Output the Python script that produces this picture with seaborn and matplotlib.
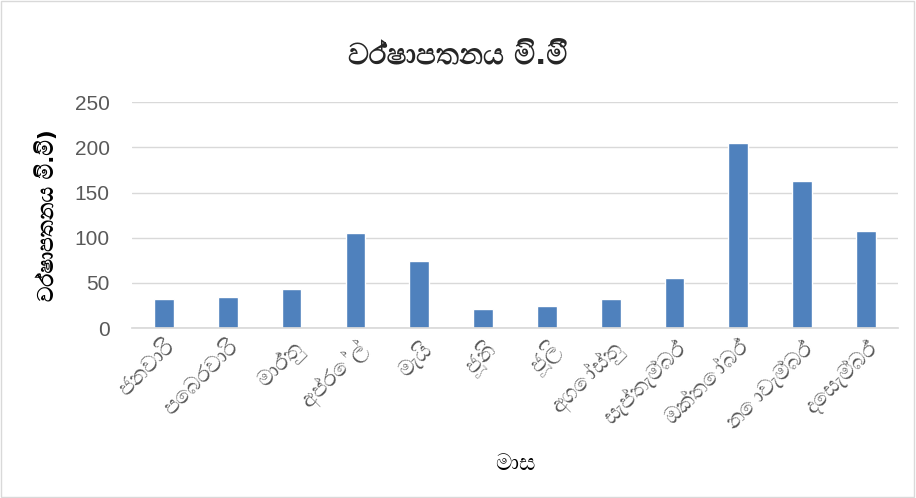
import matplotlib
matplotlib.use("Agg")
import matplotlib.pyplot as plt
from matplotlib import font_manager
from matplotlib.ft2font import FT2Font
from matplotlib.patches import Rectangle
import seaborn as sns
import pandas as pd

months = ["ජනවාරි", "පෙබරවාරි", "මාර්තු", "අප්‍රේල්", "මැයි", "ජූනි",
          "ජූලි", "අගෝස්තු", "සැප්තැම්බර්", "ඔක්තෝබර්", "නොවැම්බර්", "දෙසැම්බර්"]
rainfall = [32, 34, 43, 105, 74, 21, 25, 32, 56, 205, 163, 107]
y_ticks = [0, 50, 100, 150, 200, 250]

title = "වර්ෂාපතනය මි.මී"
y_label = "වර්ෂාපතනය මි.මි)"
x_label = "මාස"

sns.set_theme(style="white")

# look for an installed font with Sinhala glyphs, FreeSerif if it is there
names = set()
for f in font_manager.fontManager.ttflist:
    try:
        if 0x0DC0 in FT2Font(f.fname).get_charmap():
            names.add(f.name)
    except Exception:
        pass
if "FreeSerif" in names:
    sinhala_font = "FreeSerif"
else:
    others = sorted(n for n in names if not n.startswith("Unifont"))
    sinhala_font = others[0] if others else (sorted(names)[0] if names else None)

sin_fam = ["DejaVu Sans", sinhala_font] if sinhala_font else ["DejaVu Sans"]
plt.rcParams["font.family"] = sin_fam

df = pd.DataFrame({"month": months, "rain": rainfall})

fig = plt.figure(figsize=(9.16, 4.98), dpi=100)
ax = fig.add_axes([0.1441, 0.341, 0.8362, 0.454])

sns.barplot(data=df, x="month", y="rain", color="#4F81BD", width=0.31,
            saturation=1, ax=ax)

ax.set_ylim(0, 250)
ax.set_yticks(y_ticks)
ax.yaxis.grid(True, color="#D9D9D9", linewidth=1)
ax.set_axisbelow(True)
for s in ["top", "right", "left"]:
    ax.spines[s].set_visible(False)
ax.spines["bottom"].set_color("#D9D9D9")
ax.tick_params(axis="y", colors="#595959", length=0, pad=16)
ax.tick_params(axis="x", colors="#595959", length=0, pad=6)
for lab in ax.get_yticklabels():
    lab.set_family("Liberation Sans")
    lab.set_fontsize(15)
for lab in ax.get_xticklabels():
    lab.set_fontsize(16)
    lab.set_rotation(45)
    lab.set_ha("right")
    lab.set_rotation_mode("anchor")

ax.set_xlabel(x_label, fontsize=16.5, color="#000000", labelpad=14)
ax.set_ylabel(y_label, fontsize=15.5, fontweight="bold", color="#000000", labelpad=12)
fig.text(0.5, 0.888, title, ha="center", va="center", fontsize=21, fontweight="bold")

fig.patches.append(Rectangle((0.001, 0.002), 0.997, 0.996, transform=fig.transFigure,
                             fill=False, edgecolor="#D9D9D9", linewidth=1))

fig.savefig("out.png", dpi=100)
